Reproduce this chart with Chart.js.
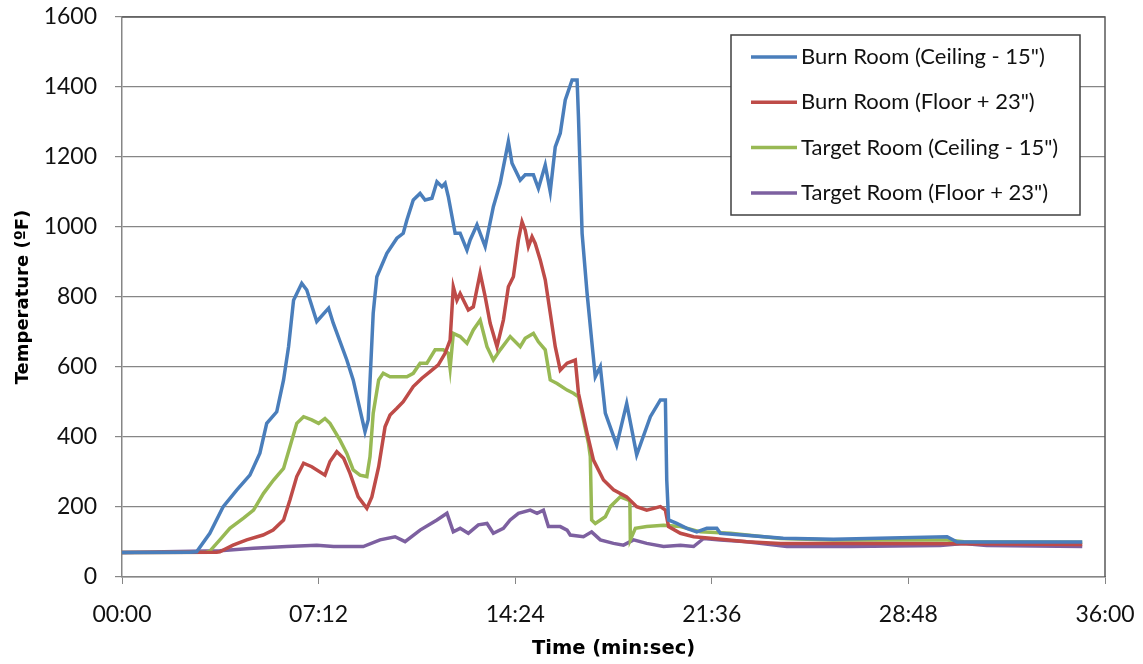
<!DOCTYPE html>
<html>
<head>
<meta charset="utf-8">
<script src="https://cdn.jsdelivr.net/npm/chart.js@4"></script>
<style>
  body { margin: 0; background: #fff; }
  #wrap { width: 1143px; height: 664px; }
</style>
</head>
<body>
<div id="wrap"><canvas id="myChart"></canvas></div>
<script>
// series labels
const labels = ['Burn Room (Ceiling - 15")', 'Burn Room (Floor + 23")', 'Target Room (Ceiling - 15")', 'Target Room (Floor + 23")'];
const colors = ['#4a7ebb', '#be4b48', '#98b954', '#7d60a0'];

// time in seconds, temperature in ºF
const burnCeilT = [0,150,164,193,222,252,281,303,318,340,355,366,377,395,406,428,454,464,494,508,534,541,552,560,582,604,618,626,640,655,666,681,692,703,710,717,732,743,758,765,780,798,816,831,849,857,875,886,904,915,930,941,952,963,974,989,1000,1003,1011,1022,1032,1040,1051,1062,1087,1109,1131,1161,1183,1194,1197,1201,1219,1241,1263,1285,1307,1315,1453,1563,1813,1835,2110];
const burnCeilV = [70,71,72,125,200,248,291,354,439,472,563,658,791,839,820,730,768,726,620,563,415,449,754,858,925,968,982,1020,1077,1096,1077,1082,1129,1115,1125,1087,982,982,934,963,1006,944,1058,1125,1244,1182,1134,1149,1149,1110,1177,1101,1229,1268,1363,1420,1420,1315,982,810,677,572,601,468,377,496,349,458,506,506,277,163,153,139,129,139,139,125,111,108,115,100,100];

const burnFloorT = [0,208,215,244,274,310,332,355,369,384,399,417,446,457,472,487,501,519,538,549,564,578,589,604,618,640,659,677,695,710,721,728,736,743,761,772,787,798,809,824,838,849,860,871,879,886,893,901,908,919,930,941,952,963,978,996,1003,1022,1036,1058,1080,1109,1131,1153,1183,1194,1201,1227,1256,1300,1373,1447,1600,1850,2110];
const burnFloorV = [70,71,72,91,106,120,134,163,220,287,325,315,291,330,358,339,296,229,196,229,315,429,463,482,501,544,568,587,606,639,677,829,791,810,763,772,868,801,725,658,734,829,858,963,1015,991,944,972,953,906,849,754,658,591,611,620,525,411,334,277,249,229,201,191,201,191,144,125,115,110,101,96,96,95,93];

const targetCeilT = [0,186,193,215,237,267,289,311,333,355,369,384,399,417,432,446,457,479,494,508,523,538,545,552,564,574,589,607,626,640,655,670,688,706,717,721,728,743,758,772,787,802,816,831,853,875,886,904,915,930,941,956,978,992,1003,1014,1025,1029,1032,1040,1062,1073,1095,1113,1116,1117,1128,1153,1190,1227,1271,1337,1447,1563,1813,1850,2110];
const targetCeilV = [70,71,74,106,139,168,191,239,277,310,372,439,458,449,439,453,439,391,353,306,291,287,344,468,563,582,572,572,572,582,611,611,649,649,639,596,696,687,668,706,734,658,620,649,687,658,682,696,672,649,563,553,534,525,515,449,382,344,163,153,172,201,229,220,215,106,139,144,148,144,129,125,110,106,106,101,99];

const targetFloorT = [0,215,289,362,428,465,530,567,600,622,655,692,714,728,743,761,783,802,816,838,853,871,897,912,926,937,963,978,985,1014,1032,1051,1080,1102,1124,1153,1190,1227,1256,1278,1315,1373,1461,1600,1798,1849,1900,2110];
const targetFloorV = [70,75,82,87,91,87,87,106,115,101,134,163,182,129,139,125,149,153,125,139,163,182,191,182,191,144,144,134,120,115,129,106,96,91,106,96,87,91,87,110,106,101,87,87,90,96,90,87];

// axis ticks
const xTicks = [0, 432, 864, 1296, 1728, 2160];
const yTicks = [0, 200, 400, 600, 800, 1000, 1200, 1400, 1600];

function pts(ts, vs) {
  return ts.map((t, i) => ({x: t, y: vs[i]}));
}
function mmss(s) {
  const m = Math.floor(s / 60), r = Math.round(s % 60);
  return String(m).padStart(2, '0') + ':' + String(r).padStart(2, '0');
}

const series = [[burnCeilT, burnCeilV], [burnFloorT, burnFloorV], [targetCeilT, targetCeilV], [targetFloorT, targetFloorV]];
const FONT = 'Lato, "Open Sans", sans-serif';
const TFONT = '"DejaVu Sans", Verdana, sans-serif';

// frame + legend box drawn over the plot
const framePlugin = {
  id: 'frame',
  afterDraw(chart) {
    const {ctx, chartArea: a} = chart;
    ctx.save();
    ctx.strokeStyle = '#5a5a5a';
    ctx.lineWidth = 1.5;
    ctx.beginPath();
    ctx.moveTo(a.left, a.top); ctx.lineTo(a.right, a.top); ctx.lineTo(a.right, a.bottom);
    ctx.stroke();

    const bx = a.right - 374, by = a.top + 18, bw = 349, bh = 180;
    ctx.fillStyle = '#fff';
    ctx.fillRect(bx, by, bw, bh);
    ctx.strokeStyle = '#404040';
    ctx.lineWidth = 1.5;
    ctx.strokeRect(bx, by, bw, bh);
    ctx.font = '22px ' + FONT;
    ctx.textBaseline = 'middle';
    chart.data.datasets.forEach((ds, i) => {
      const y = by + 22 + i * 45.3;
      ctx.strokeStyle = ds.borderColor;
      ctx.lineWidth = 3.5;
      ctx.beginPath();
      ctx.moveTo(bx + 20, y); ctx.lineTo(bx + 66, y);
      ctx.stroke();
      ctx.fillStyle = '#111';
      ctx.fillText(ds.label, bx + 70, y);
    });
    ctx.restore();
  }
};

new Chart(document.getElementById('myChart'), {
  type: 'line',
  data: {
    datasets: series.map((s, i) => ({
      label: labels[i],
      data: pts(s[0], s[1]),
      borderColor: colors[i],
      backgroundColor: colors[i],
      borderWidth: 3.5,
      pointRadius: 0,
      tension: 0,
      fill: false
    }))
  },
  options: {
    responsive: true,
    maintainAspectRatio: false,
    animation: false,
    layout: {padding: {top: 17, right: 38, left: 0, bottom: 0}},
    plugins: {legend: {display: false}, tooltip: {enabled: false}},
    scales: {
      x: {
        type: 'linear',
        min: 0, max: 2160,
        afterBuildTicks: (sc) => { sc.ticks = xTicks.map(v => ({value: v})); },
        afterFit: (sc) => { sc.height = 87; sc.paddingLeft = 0; sc.paddingRight = 0; },
        ticks: {
          callback: (v) => mmss(v),
          color: '#111',
          font: {size: 23, family: FONT},
          padding: 17,
          maxRotation: 0
        },
        grid: {drawOnChartArea: false, drawTicks: true, tickLength: 7, color: '#868686'},
        border: {color: '#868686', width: 1.5},
        title: {display: true, text: 'Time (min:sec)', color: '#000', font: {size: 19.5, weight: 'bold', family: TFONT}, padding: {top: 0, bottom: 3}}
      },
      y: {
        min: 0, max: 1600,
        afterBuildTicks: (sc) => { sc.ticks = yTicks.map(v => ({value: v})); },
        afterFit: (sc) => { sc.width = 122; sc.paddingTop = 0; sc.paddingBottom = 0; },
        ticks: {
          callback: (v) => String(v),
          color: '#111',
          font: {size: 23, family: FONT},
          padding: 18
        },
        grid: {color: '#868686', lineWidth: 1.2, tickLength: 7},
        border: {color: '#868686', width: 1.5},
        title: {display: true, text: 'Temperature (ºF)', color: '#000', font: {size: 18, weight: 'bold', family: TFONT}, padding: {top: 13, bottom: 0}}
      }
    }
  },
  plugins: [framePlugin]
});
</script>
</body>
</html>
